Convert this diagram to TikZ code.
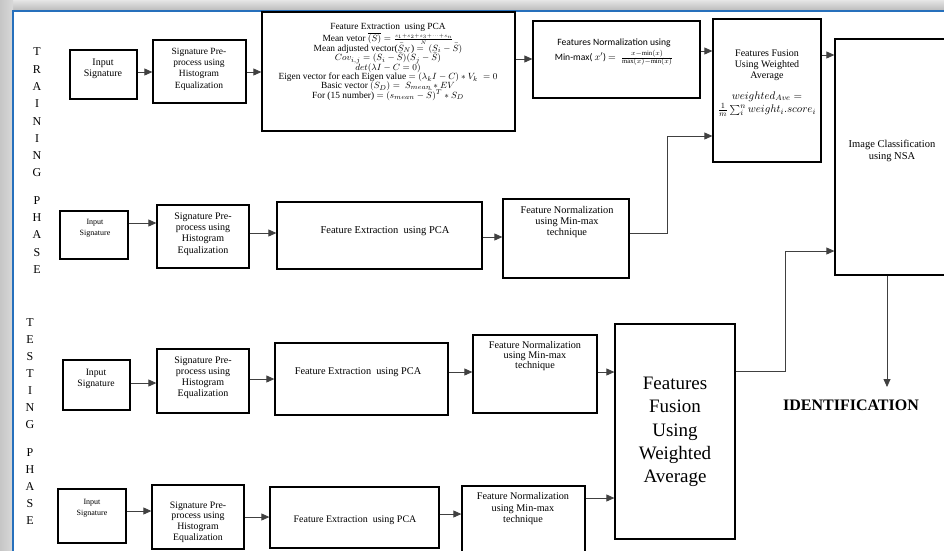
\documentclass[tikz,border=0pt]{standalone}
\usepackage{fontspec}
\setmainfont{Liberation Serif}
\newfontfamily\calib{Carlito}
\usetikzlibrary{arrows.meta,fit}
\definecolor{frameblue}{RGB}{38,112,188}
\newcommand\tightlines{\lineskiplimit=-30pt\relax\lineskip=0pt\relax}
\tikzset{
  box/.style={draw=black, line width=1.3pt, inner sep=0pt},
  txt/.style={align=center, inner sep=0pt, font=\fontsize{10}{10.8}\selectfont},
  conn/.style={draw=black!75, line width=0.8pt, -{Triangle[length=8pt,width=7pt]}},
  letters/.style={align=center, inner sep=0pt, font=\fontsize{12}{17.3}\selectfont},
}
\begin{document}
\begin{tikzpicture}[x=1pt,y=-1pt]
\useasboundingbox (0,0) rectangle (944,550);
\clip (0,0) rectangle (944,550);
% frame and shadow
\shade[top color=gray!20, bottom color=gray!55] (0,0) rectangle (944,11);
\shade[left color=gray!45, right color=gray!30] (0,0) rectangle (13,550);
\fill[white] (13,11) rectangle (944,550);
\draw[frameblue, line width=2.2pt] (13,552) -- (13,11) -- (946,11);

% phase labels
\node[letters] (tr1) at (37,112.5) {T\\R\\A\\I\\N\\I\\N\\G};
\node[letters] (tr2) at (37,235) {P\\H\\A\\S\\E};
\node[letters, font=\fontsize{12}{17}\selectfont] (te1) at (30,374) {T\\E\\S\\T\\I\\N\\G};
\node[letters, font=\fontsize{12}{17}\selectfont] (te2) at (30,487) {P\\H\\A\\S\\E};

% ---------- training row 1
\node[box, fit={(70,50)(137,99)}] (in1) {};
\node[box, fit={(153,40)(246,103)}] (pre1) {};
\node[box, fit={(262,12)(515,131)}] (pca1) {};
\node[box, fit={(533,21)(700,98)}] (nrm1) {};
\node[box, fit={(713,19)(821,162)}] (fus1) {};
\node[box, fit={(835,39)(980,275)}] (nsa) {};

\node[txt] (in1t) at (103,69) {Input\\Signature};
\node[txt, font=\fontsize{9.5}{11.3}\selectfont] (pre1t) at (199,69) {Signature Pre-\\process using\\Histogram\\Equalization};
\node[txt, font=\fontsize{9.4}{9.4}\selectfont\tightlines, anchor=north] (pca1t) at (388,23) {Feature Extraction\ \ using PCA\\[3pt]
Mean vetor $\overline{(S)} = \frac{\scriptscriptstyle s_1+s_2+s_3+\cdots+s_n}{\scriptscriptstyle N}$\\
Mean adjusted vector($\bar{S}_N$) $=\ (S_i - \bar{S})$\\
$Cov_{i,j} = (S_i - \bar{S})(S_j - \bar{S})$\\
$det(\lambda I - C = 0)$\\
Eigen vector for each Eigen value $=(\lambda_k I - C) * V_k\ = 0$\\
Basic vector $(S_D) =\ S_{mean} * EV$\\
For (15 number) $= (s_{mean} - \bar{S})^T * S_D$};
\node[txt, font=\calib\fontsize{9.6}{15}\selectfont] (nrm1t) at (614,52) {Features Normalization using\\Min-max( $x'$) $=\ \frac{x-\min(x)}{\max(x)-\min(x)}$};
\node[txt, anchor=north] (fus1t) at (767,50) {Features Fusion\\Using Weighted\\Average\\[10pt] {\fontsize{11}{12}\selectfont $weighted_{Ave} =$}\\[1pt] {\fontsize{11}{12}\selectfont $\frac{1}{m}\sum_i^n weight_i.score_i$}};
\node[txt, font=\fontsize{10.5}{12}\selectfont] (nsat) at (892,151) {Image Classification\\using NSA};

\draw[conn] (in1.east |- 0,72) -- (pre1.west |- 0,72);
\draw[conn] (pre1.east |- 0,72) -- (pca1.west |- 0,72);
\draw[conn] (pca1.east |- 0,59) -- (nrm1.west |- 0,59);
\draw[conn] (nrm1.east |- 0,51) -- (fus1.west |- 0,51);
\draw[conn] (fus1.east |- 0,55) -- (nsa.west |- 0,55);

% ---------- training row 2
\node[box, fit={(60,211)(128,259)}] (in2) {};
\node[box, fit={(157,205)(249,268)}] (pre2) {};
\node[box, fit={(277,202)(482,269)}] (pca2) {};
\node[box, fit={(503,199)(629,278)}] (nrm2) {};

\node[txt, font=\fontsize{8}{11}\selectfont] (in2t) at (95,228) {Input\\Signature};
\node[txt, font=\fontsize{10}{11.3}\selectfont] (pre2t) at (203,234) {Signature Pre-\\process using\\Histogram\\Equalization};
\node[txt, font=\fontsize{10.5}{12}\selectfont] (pca2t) at (385,231) {Feature Extraction\ \ using PCA};
\node[txt, font=\fontsize{10.3}{10.6}\selectfont] (nrm2t) at (567,222) {Feature Normalization\\using Min-max\\technique};

\draw[conn] (in2.east |- 0,223) -- (pre2.west |- 0,223);
\draw[conn] (pre2.east |- 0,233) -- (pca2.west |- 0,233);
\draw[conn] (pca2.east |- 0,237) -- (nrm2.west |- 0,237);
\coordinate (j1) at (667,233);
\coordinate (j2) at (667,136);
\draw[conn] (nrm2.east |- j1) -- (j1) -- (j2) -- (fus1.west |- j2);

% ---------- testing row 1
\node[box, fit={(63,360)(130,410)}] (in3) {};
\node[box, fit={(157,349)(249,413)}] (pre3) {};
\node[box, fit={(275,343)(448,415)}] (pca3) {};
\node[box, fit={(473,335)(597,413)}] (nrm3) {};
\node[box, fit={(615,324)(735,539)}] (fus2) {};

\node[txt, font=\fontsize{9.7}{11.5}\selectfont] (in3t) at (96,379) {Input\\Signature};
\node[txt, font=\fontsize{10}{11}\selectfont] (pre3t) at (203,378) {Signature Pre-\\process using\\Histogram\\Equalization};
\node[txt, font=\fontsize{10.3}{12}\selectfont] (pca3t) at (358,372) {Feature Extraction\ \ using PCA};
\node[txt, font=\fontsize{10.2}{10.3}\selectfont] (nrm3t) at (535,356) {Feature Normalization\\using Min-max\\technique};
\node[txt, font=\fontsize{19}{23.3}\selectfont] (fus2t) at (675,432) {Features\\Fusion\\Using\\Weighted\\Average};

\draw[conn] (in3.east |- 0,383) -- (pre3.west |- 0,383);
\draw[conn] (pre3.east |- 0,379) -- (pca3.west |- 0,379);
\draw[conn] (pca3.east |- 0,372) -- (nrm3.west |- 0,372);
\draw[conn] (nrm3.east |- 0,372) -- (fus2.west |- 0,372);

% ---------- testing row 2
\node[box, fit={(58,489)(126,543)}] (in4) {};
\node[box, fit={(152,485)(244,549)}] (pre4) {};
\node[box, fit={(270,487)(439,548)}] (pca4) {};
\node[box, fit={(462,486)(585,570)}] (nrm4) {};

\node[txt, font=\fontsize{8}{11.5}\selectfont] (in4t) at (92,508) {Input\\Signature};
\node[txt, font=\fontsize{9.8}{10.8}\selectfont] (pre4t) at (198,522) {Signature Pre-\\process using\\Histogram\\Equalization};
\node[txt, font=\fontsize{10}{12}\selectfont] (pca4t) at (355,520) {Feature Extraction\ \ using PCA};
\node[txt, font=\fontsize{10.2}{11.5}\selectfont] (nrm4t) at (523,509) {Feature Normalization\\using Min-max\\technique};

\draw[conn] (in4.east |- 0,511) -- (pre4.west |- 0,511);
\draw[conn] (pre4.east |- 0,517) -- (pca4.west |- 0,517);
\draw[conn] (pca4.east |- 0,514) -- (nrm4.west |- 0,514);
\draw[conn] (nrm4.east |- 0,498) -- (fus2.west |- 0,498);

% ---------- to classification and identification
\coordinate (k1) at (785,371);
\coordinate (k2) at (785,251);
\draw[conn] (fus2.east |- k1) -- (k1) -- (k2) -- (nsa.west |- k2);
\coordinate (idtop) at (887,387);
\draw[conn] (nsa.south -| idtop) -- (idtop);
\node[inner sep=0pt, font=\bfseries\fontsize{16}{16}\selectfont] (ident) at (851,405) {IDENTIFICATION};
\end{tikzpicture}
\end{document}
